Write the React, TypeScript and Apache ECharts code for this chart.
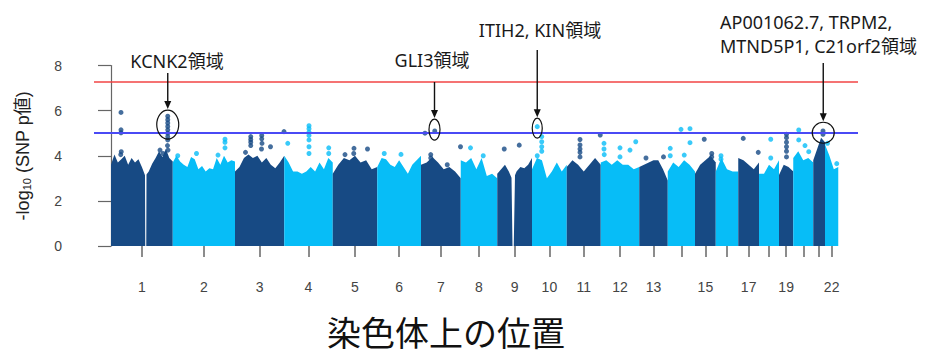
import React, { useEffect, useRef } from 'react';
import * as echarts from 'echarts';

// ---------- data ----------
const chromosomes = ['1','2','3','4','5','6','7','8','9','10','11','12','13','14','15','16','17','18','19','20','21','22'];
// span of genotyped SNPs per chromosome (Mb)
const chromLengthMb = [247, 249, 197, 194, 178, 175, 159, 146, 139, 139, 136, 154, 114, 109, 83, 90, 83, 80, 57, 80, 47, 53];
const labeledChromosomes = ['1','2','3','4','5','6','7','8','9','10','11','12','13','15','17','19','22'];
const yTickValues = [0, 2, 4, 6, 8];
const genomeWideLine = 7.3;
const suggestiveLine = 5;

// upper envelope of the dense SNP cloud per chromosome (-log10 p), evenly spaced along the chromosome
const bodyProfiles = [
  [3.6, 4.05, 3.7, 3.85, 4.0, 3.6, 3.9, 3.7, 3.85, 3.5, 3.1, 3.3, 3.65, 3.9, 4.2, 3.95, 4.3, 3.9, 3.75],
  [3.7, 4.0, 3.75, 3.6, 3.5, 3.95, 3.85, 3.4, 3.55, 3.3, 3.45, 3.4, 3.9, 3.6, 4.0, 3.7, 3.8, 3.75],
  [3.3, 3.5, 3.9, 4.05, 3.9, 4.0, 3.7, 3.9, 3.6, 3.45, 3.7, 4.0],
  [4.0, 3.7, 3.3, 3.3, 3.2, 3.3, 3.5, 3.3, 3.7, 3.4, 3.9, 3.7],
  [3.2, 3.6, 3.9, 3.8, 4.0, 3.7, 3.8, 3.4, 3.5],
  [3.5, 3.9, 3.85, 3.6, 3.5, 3.8, 3.5, 3.2, 3.6, 3.8, 4.0],
  [3.6, 3.7, 3.95, 3.7, 3.4, 3.5, 3.3, 3.0],
  [3.8, 3.7, 3.9, 3.4, 3.9, 3.1, 3.2, 3.0],
  [3.2, 3.4, 3.6, 3.3, 2.9, 3.3, 3.5, 3.45, 3.6, 3.9],
  [3.4, 3.9, 3.8, 3.0, 3.3, 3.7, 3.3, 3.6],
  [3.5, 3.8, 3.6, 3.3, 3.6, 3.9, 3.6],
  [3.7, 3.8, 3.6, 3.8, 3.6, 3.6, 3.4, 3.5],
  [3.5, 3.6, 3.7, 3.8, 3.8, 3.4, 2.9],
  [3.3, 3.7, 3.5, 3.8, 3.6, 3.3],
  [3.2, 3.6, 3.8, 4.0, 3.7],
  [3.3, 3.9, 3.4, 3.3, 3.3],
  [3.9, 3.8, 3.6, 3.4, 3.7],
  [3.2, 3.2, 3.6, 3.4, 3.8],
  [3.15, 3.6, 3.5, 3.3],
  [3.9, 4.2, 3.8, 3.9, 3.7],
  [3.8, 4.3, 4.8, 4.6],
  [4.5, 4.0, 3.4, 3.5],
];

// stretches without SNPs (centromeres): [chromosome, top start Mb, top end Mb, bottom start Mb, bottom end Mb]
const snpGaps: [number, number, number, number, number][] = [
  [1, 136, 142, 137, 141],
  [9, 57, 71, 61, 66],
];

// individual SNPs standing above the cloud: [chromosome, position Mb, -log10 p]
const topSnps: [number, number, number][] = [
  [1,40,5.92],[1,40,5.15],[1,40,5.02],[1,41,4.18],[1,39,4.05],
  [1,227,5.75],[1,227,5.6],[1,227,5.45],[1,227,5.3],[1,227,5.15],[1,227,5.0],[1,227,4.85],[1,227,4.7],[1,226,4.45],[1,228,4.25],[1,196,4.25],[1,208,4.1],
  [2,209,4.73],[2,209,4.6],[2,209,4.35],[2,181,4.03],[2,95,4.1],[2,20,4.0],
  [3,63,4.85],[3,63,4.72],[3,63,4.6],[3,63,4.45],[3,107,4.9],[3,107,4.75],[3,108,4.55],[3,106,4.3],[3,142,4.4],[3,42,4.15],[3,196,5.07],
  [4,99,5.33],[4,99,5.2],[4,99,5.05],[4,99,4.9],[4,99,4.7],[4,99,4.4],[4,99,4.1],[4,14,4.55],[4,178,4.35],[4,178,4.1],
  [5,85,4.33],[5,84,4.1],[5,139,4.3],[5,49,4.05],
  [6,95,4.06],[6,28,4.1],
  [7,16,5.0],[7,55,5.1],[7,39,4.05],[7,39,3.9],[7,105,3.6],[7,158,4.4],
  [8,39,4.35],[8,90,4.0],
  [9,28,4.3],[9,88,4.47],
  [10,21,5.29],[10,21,4.0],[10,39,4.85],[10,39,4.62],[10,39,4.4],[10,39,4.2],
  [11,53,4.72],[11,53,4.48],[11,53,4.3],[11,53,4.15],[11,53,3.95],[11,134,4.92],
  [12,13,4.55],[12,13,4.3],[12,14,4.05],[12,77,4.35],[12,77,3.95],[12,117,4.25],[12,140,4.62],
  [13,27,3.9],[13,97,3.95],
  [14,10,4.33],[14,10,4.0],[14,53,5.17],[14,66,4.03],[14,89,5.2],[14,89,4.58],
  [15,37,4.73],[15,67,4.1],[15,67,3.95],
  [16,21,4.0],[16,21,3.85],
  [17,20,4.77],[17,80,4.15],
  [18,47,4.73],[18,47,3.9],
  [19,30,4.95],[19,30,4.8],[19,30,4.6],[19,30,4.4],[19,30,4.2],[19,30,3.95],
  [20,22,5.14],[20,22,4.7],[20,47,4.45],[20,62,4.18],
  [21,39,5.1],[21,39,4.95],
  [22,10,4.55],[22,47,3.65],
];

// highlighted regions: [chromosome, position Mb, -log10 p at circle centre]
const regionNames = ['KCNK2領域', 'GLI3領域', 'ITIH2, KIN領域', 'AP001062.7, TRPM2,\nMTND5P1, C21orf2領域'];
const regionAnchors: [number, number, number][] = [[1, 227, 5.38], [7, 54, 5.16], [10, 21, 5.22], [21, 40, 5.02]];

// ---------- styling / layout ----------
const DARK = '#174a84';
const LIGHT = '#07bdf7';
const AX_FONT = '"Liberation Sans", Arial, "Noto Sans CJK JP", sans-serif';
const ANN_FONT = '"Noto Sans", "Noto Sans CJK JP", sans-serif';
// per-annotation layout (pixels): text x, text y, align, arrow top y, ellipse rx, ry
const annLayout = [
  { tx: 177, ty: 61, align: 'center', arrowTop: 73, rx: 11, ry: 14.5 },
  { tx: 432, ty: 60, align: 'center', arrowTop: 82, rx: 5.5, ry: 10.5 },
  { tx: 540, ty: 29.5, align: 'center', arrowTop: 50, rx: 5, ry: 10 },
  { tx: 720, ty: 34, align: 'left', arrowTop: 63, rx: 11, ry: 10.5 },
];

const chromStart: number[] = [];
{
  let acc = 0;
  chromLengthMb.forEach((l) => { chromStart.push(acc); acc += l; });
}
const chromMid = chromLengthMb.map((l, i) => chromStart[i] + l / 2);
const labelMids = labeledChromosomes.map((c) => chromMid[chromosomes.indexOf(c)]);

const toX = (chr: number, pos: number) => chromStart[chr - 1] + pos;

export default function App() {
  const ref = useRef<HTMLDivElement>(null);
  useEffect(() => {
    document.body.style.margin = '0';
    const chart = echarts.init(ref.current!, undefined, { renderer: 'svg' });
    const darkPts = topSnps.filter((s) => s[0] % 2 === 1).map((s) => [toX(s[0], s[1]), s[2]]);
    const lightPts = topSnps.filter((s) => s[0] % 2 === 0).map((s) => [toX(s[0], s[1]), s[2]]);

    const option: any = {
      animation: false,
      grid: { left: 94, right: 75, top: 65.5, bottom: 108 },
      xAxis: {
        type: 'value',
        min: -68,
        max: 2988,
        offset: 2,
        splitLine: { show: false },
        axisLine: { show: false },
        axisTick: { show: true, customValues: chromMid, length: 11, lineStyle: { color: '#666', width: 1.5 } },
        axisLabel: {
          show: true,
          customValues: labelMids,
          margin: 32,
          fontSize: 14,
          color: '#444',
          fontFamily: AX_FONT,
          formatter: (v: number) => {
            let best = 0;
            chromMid.forEach((m, i) => { if (Math.abs(m - v) < Math.abs(chromMid[best] - v)) best = i; });
            return chromosomes[best];
          },
        },
      },
      yAxis: {
        type: 'value',
        min: 0,
        max: 8,
        interval: 2,
        offset: 4,
        splitLine: { show: false },
        axisLine: { show: true, lineStyle: { color: '#666', width: 1.2 } },
        axisTick: { show: true, length: 13, lineStyle: { color: '#666', width: 1.2 } },
        axisLabel: { margin: 28, fontSize: 14, color: '#444', fontFamily: AX_FONT, customValues: yTickValues },
        name: '{a|-log}{s|10}{a| (SNP p値)}',
        nameLocation: 'middle',
        nameRotate: 90,
        nameGap: 58,
        nameTextStyle: {
          rich: {
            a: { fontSize: 18, fontFamily: AX_FONT, color: '#222', lineHeight: 22, verticalAlign: 'bottom' },
            s: { fontSize: 11, fontFamily: AX_FONT, color: '#222', lineHeight: 14, verticalAlign: 'bottom' },
          },
        },
      },
      series: [
        {
          type: 'custom',
          z: 2,
          silent: true,
          encode: { x: 0, y: 1 },
          data: chromosomes.map((_, i) => [chromMid[i], 0, i]),
          renderItem: (params: any, api: any) => {
            const ci = api.value(2);
            const start = chromStart[ci];
            const len = chromLengthMb[ci];
            const prof = bodyProfiles[ci];
            const n = prof.length;
            const hAt = (p: number) => {
              const t = (p / len) * (n - 1);
              const k = Math.max(0, Math.min(n - 2, Math.floor(t)));
              const f = t - k;
              return prof[k] * (1 - f) + prof[k + 1] * f;
            };
            const pieces: { from: number; fromBot: number; to: number; toBot: number }[] = [];
            let cur = { from: 0, fromBot: 0 };
            snpGaps.filter((g) => g[0] === ci + 1).forEach((g) => {
              pieces.push({ from: cur.from, fromBot: cur.fromBot, to: g[1], toBot: g[3] });
              cur = { from: g[2], fromBot: g[4] };
            });
            pieces.push({ from: cur.from, fromBot: cur.fromBot, to: len, toBot: len });
            const children = pieces.map((pc) => {
              const pts: number[][] = [api.coord([start + pc.fromBot, 0]), api.coord([start + pc.from, hAt(pc.from)])];
              for (let k = 0; k < n; k++) {
                const p = (len * k) / (n - 1);
                if (p > pc.from && p < pc.to) pts.push(api.coord([start + p, prof[k]]));
              }
              pts.push(api.coord([start + pc.to, hAt(pc.to)]));
              pts.push(api.coord([start + pc.toBot, 0]));
              return { type: 'polygon', shape: { points: pts }, style: { fill: ci % 2 === 0 ? DARK : LIGHT } };
            });
            return { type: 'group', children };
          },
        },
        { type: 'scatter', z: 3, data: darkPts, symbolSize: 5, itemStyle: { color: DARK }, silent: true },
        { type: 'scatter', z: 3, data: lightPts, symbolSize: 5, itemStyle: { color: LIGHT }, silent: true },
        {
          type: 'scatter',
          z: 5,
          data: [],
          markLine: {
            silent: true,
            symbol: ['none', 'none'],
            label: { show: false },
            z: 5,
            data: [
              { yAxis: genomeWideLine, lineStyle: { color: '#f24444', width: 1.5, type: 'solid' } },
              { yAxis: suggestiveLine, lineStyle: { color: '#4a4af5', width: 2, type: 'solid' } },
            ],
          },
        },
      ],
    };
    chart.setOption(option);

    const graphics: any[] = [];
    regionAnchors.forEach((a, i) => {
      const L = annLayout[i];
      const [cx, cy] = chart.convertToPixel({ xAxisIndex: 0, yAxisIndex: 0 }, [toX(a[0], a[1]), a[2]]) as number[];
      const tip = cy - L.ry - 1;
      graphics.push({ type: 'ellipse', z: 10, shape: { cx, cy, rx: L.rx, ry: L.ry }, style: { fill: 'none', stroke: '#111', lineWidth: 1.2 } });
      graphics.push({ type: 'line', z: 10, shape: { x1: cx, y1: L.arrowTop, x2: cx, y2: tip - 5 }, style: { stroke: '#111', lineWidth: 1.4 } });
      graphics.push({ type: 'polygon', z: 10, shape: { points: [[cx - 3.5, tip - 8], [cx + 3.5, tip - 8], [cx, tip]] }, style: { fill: '#111' } });
      graphics.push({
        type: 'text', z: 10, x: L.tx, y: L.ty,
        style: { text: regionNames[i], fontSize: 18, fontFamily: ANN_FONT, fill: '#1a1a1a', align: L.align, verticalAlign: 'middle', lineHeight: 23.5 },
      });
    });
    graphics.push({
      type: 'text', x: 446, y: 331,
      style: { text: '染色体上の位置', fontSize: 34, lineHeight: 36, fontFamily: '"Noto Sans CJK JP", sans-serif', fill: '#111', align: 'center', verticalAlign: 'middle' },
    });
    chart.setOption({ graphic: graphics });
    return () => chart.dispose();
  }, []);
  return <div ref={ref} style={{ width: 933, height: 354 }} />;
}
